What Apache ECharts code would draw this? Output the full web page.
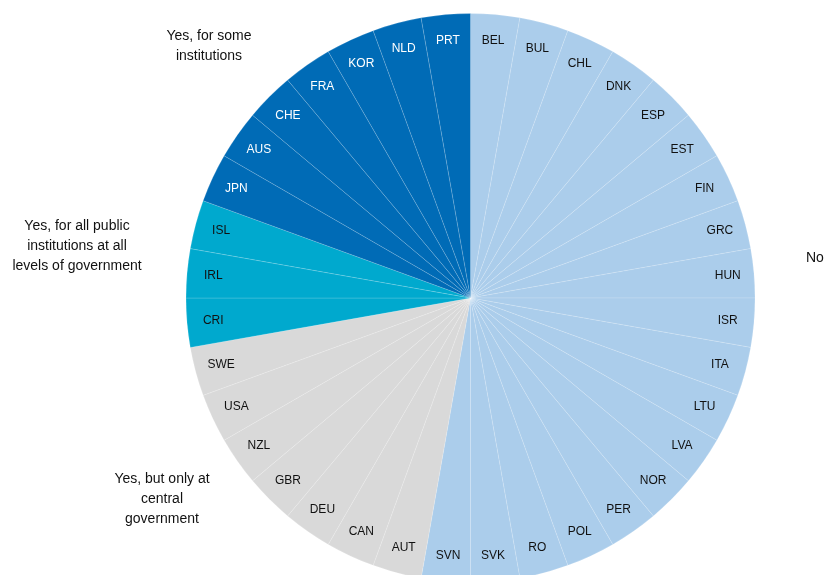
<!DOCTYPE html>
<html>
<head>
<meta charset="utf-8">
<script src="https://cdn.jsdelivr.net/npm/echarts@6/dist/echarts.min.js"></script>
<style>
html,body{margin:0;padding:0;background:#fff;}
#chart{width:824px;height:575px;}
</style>
</head>
<body>
<div id="chart"></div>
<script>
// Countries per answer group (clockwise from 12 o'clock)
var noCountries = ["BEL","BUL","CHL","DNK","ESP","EST","FIN","GRC","HUN","ISR","ITA","LTU","LVA","NOR","PER","POL","RO","SVK","SVN"];
var centralCountries = ["AUT","CAN","DEU","GBR","NZL","USA","SWE"];
var allLevelsCountries = ["CRI","IRL","ISL"];
var someCountries = ["JPN","AUS","CHE","FRA","KOR","NLD","PRT"];
// Each country counts as one equal slice
var sliceValue = 1;
var groupNames = ["No", "Yes, but only at\ncentral\ngovernment", "Yes, for all public\ninstitutions at all\nlevels of government", "Yes, for some\ninstitutions"];

var groups = [
  {list: noCountries, color: "#ABCDEB", text: "#111111"},
  {list: centralCountries, color: "#D9D9D9", text: "#111111"},
  {list: allLevelsCountries, color: "#00A9CE", text: "#111111"},
  {list: someCountries, color: "#006BB6", text: "#ffffff"}
];

var mainData = [], labelData = [];
groups.forEach(function(g){
  g.list.forEach(function(c){
    mainData.push({name: c, value: sliceValue, itemStyle: {color: g.color}});
    labelData.push({name: c, value: sliceValue, label: {color: g.text}});
  });
});

var chart = echarts.init(document.getElementById('chart'));
var font = "'Liberation Sans', Arial, sans-serif";
chart.setOption({
  animation: false,
  series: [
    {
      type: 'pie',
      center: [470.5, 298],
      radius: [0, 284.5],
      startAngle: 90,
      clockwise: true,
      silent: true,
      label: {show: false},
      labelLine: {show: false},
      itemStyle: {borderColor: 'rgba(255,255,255,0.3)', borderWidth: 0.5},
      data: mainData
    },
    {
      type: 'pie',
      center: [470.5, 298],
      radius: [226, 284.5],
      startAngle: 90,
      clockwise: true,
      silent: true,
      itemStyle: {color: 'rgba(0,0,0,0)'},
      label: {show: true, position: 'inside', fontSize: 12, fontFamily: font, formatter: '{b}'},
      labelLine: {show: false},
      data: labelData
    }
  ],
  graphic: [
    {type: 'text', left: 806, top: 248, style: {text: groupNames[0], fontSize: 14, fontFamily: font, fill: '#111', lineHeight: 20}},
    {type: 'text', x: 162, y: 469, style: {text: groupNames[1], fontSize: 14, fontFamily: font, fill: '#111', align: 'center', lineHeight: 20}},
    {type: 'text', x: 77, y: 216, style: {text: groupNames[2], fontSize: 14, fontFamily: font, fill: '#111', align: 'center', lineHeight: 20}},
    {type: 'text', x: 209, y: 26, style: {text: groupNames[3], fontSize: 14, fontFamily: font, fill: '#111', align: 'center', lineHeight: 20}}
  ]
});
</script>
</body>
</html>
